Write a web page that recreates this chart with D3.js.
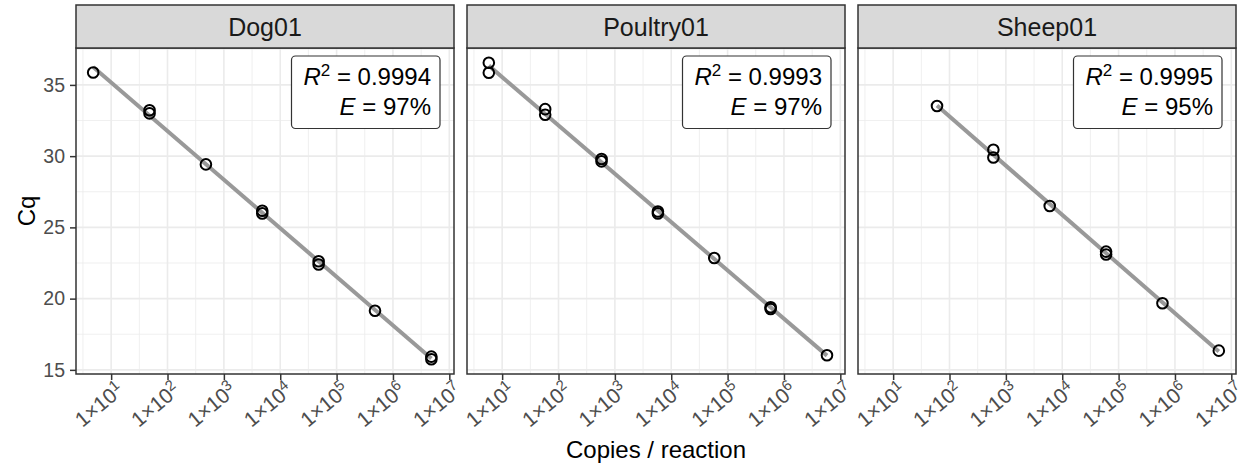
<!DOCTYPE html>
<meta charset="utf-8">
<style>
body { margin: 0; background: #fff; }
svg text { font-family: "Liberation Sans", Arial, sans-serif; }
.grid line { stroke: #ebebeb; }
.tick line { stroke: #333; stroke-width: 1.5px; }
.tick text { fill: #4d4d4d; font-size: 19.5px; }
</style>
<svg width="1242" height="465"></svg>
<script src="https://d3js.org/d3.v7.min.js"></script>
<script>

var panels = ["Dog01", "Poultry01", "Sheep01"];

var dogCopies = [4.8, 48, 48, 480, 4800, 4800, 48000, 48000, 480000, 4.8e6, 4.8e6];
var dogCq = [35.87, 33.22, 33.0, 29.42, 26.17, 25.98, 22.62, 22.4, 19.15, 15.93, 15.75];

var poultryCopies = [5.8, 5.8, 58, 58, 580, 580, 5800, 5800, 58000, 5.8e5, 5.8e5, 5.8e6];
var poultryCq = [36.55, 35.85, 33.3, 32.9, 29.8, 29.63, 26.12, 25.98, 22.85, 19.4, 19.27, 16.03];

var sheepCopies = [60, 600, 600, 6000, 60000, 60000, 6e5, 6e6];
var sheepCq = [33.52, 30.45, 29.9, 26.5, 23.3, 23.1, 19.68, 16.35];

var r2Labels = ["0.9994", "0.9993", "0.9995"];
var effLabels = ["97%", "97%", "95%"];

var xTicks = [1e1, 1e2, 1e3, 1e4, 1e5, 1e6, 1e7];
var yTicks = [15, 20, 25, 30, 35];

var copies = [dogCopies, poultryCopies, sheepCopies];
var cqs = [dogCq, poultryCq, sheepCq];

var svg = d3.select("svg"),
    left = 76, panelW = 378, gap = 13,
    stripTop = 5, stripH = 43,
    plotTop = stripTop + stripH, plotH = 326;

// shared scales, expanded 5% like ggplot
var allX = d3.merge(copies).map(function(d) { return Math.log10(d); }),
    allY = d3.merge(cqs);
var xe = d3.extent(allX), ye = d3.extent(allY);
var xpad = (xe[1] - xe[0]) * 0.05, ypad = (ye[1] - ye[0]) * 0.05;

var x = d3.scaleLog()
    .domain([Math.pow(10, xe[0] - xpad), Math.pow(10, xe[1] + xpad)])
    .range([0, panelW]);
var y = d3.scaleLinear()
    .domain([ye[0] - ypad, ye[1] + ypad])
    .range([plotH, 0]);

var xMinor = [], yMinor = [];
for (var k = 0; k <= 7; k++) {
  var v = Math.pow(10, k + 0.5);
  if (v > x.domain()[0] && v < x.domain()[1]) xMinor.push(v);
}
for (var m = 12.5; m <= 40; m += 5) {
  if (m > y.domain()[0] && m < y.domain()[1]) yMinor.push(m);
}

function fit(xs, ys) {
  var lx = xs.map(function(d) { return Math.log10(d); });
  var mx = d3.mean(lx), my = d3.mean(ys);
  var sxy = d3.sum(lx, function(d, i) { return (d - mx) * (ys[i] - my); });
  var sxx = d3.sum(lx, function(d) { return (d - mx) * (d - mx); });
  var b = sxy / sxx;
  return { slope: b, icpt: my - b * mx };
}

panels.forEach(function(name, i) {
  var g = svg.append("g")
      .attr("transform", "translate(" + (left + i * (panelW + gap)) + "," + plotTop + ")");

  g.append("rect")
      .attr("width", panelW)
      .attr("height", plotH)
      .attr("fill", "#fff");

  var grid = g.append("g").attr("class", "grid");
  grid.selectAll(".xminor").data(xMinor).enter().append("line")
      .attr("x1", x).attr("x2", x).attr("y1", 0).attr("y2", plotH)
      .attr("stroke-width", 0.8);
  grid.selectAll(".yminor").data(yMinor).enter().append("line")
      .attr("y1", y).attr("y2", y).attr("x1", 0).attr("x2", panelW)
      .attr("stroke-width", 0.8);
  grid.selectAll(".xmajor").data(xTicks).enter().append("line")
      .attr("x1", x).attr("x2", x).attr("y1", 0).attr("y2", plotH)
      .attr("stroke-width", 1.6);
  grid.selectAll(".ymajor").data(yTicks).enter().append("line")
      .attr("y1", y).attr("y2", y).attr("x1", 0).attr("x2", panelW)
      .attr("stroke-width", 1.6);

  var xs = copies[i], ys = cqs[i];
  var f = fit(xs, ys);
  var ext = d3.extent(xs);

  g.append("line")
      .attr("x1", x(ext[0]))
      .attr("y1", y(f.icpt + f.slope * Math.log10(ext[0])))
      .attr("x2", x(ext[1]))
      .attr("y2", y(f.icpt + f.slope * Math.log10(ext[1])))
      .attr("stroke", "#999")
      .attr("stroke-width", 4);

  g.selectAll("circle")
      .data(xs.map(function(d, j) { return [d, ys[j]]; }))
    .enter().append("circle")
      .attr("cx", function(d) { return x(d[0]); })
      .attr("cy", function(d) { return y(d[1]); })
      .attr("r", 5.3)
      .attr("fill", "none")
      .attr("stroke", "#000")
      .attr("stroke-width", 2);

  // annotation box
  var bw = 148.5, bx = panelW - 14 - bw, by = 8;
  g.append("rect")
      .attr("x", bx).attr("y", by)
      .attr("width", bw).attr("height", 72.5)
      .attr("rx", 4)
      .attr("fill", "#fff")
      .attr("stroke", "#333")
      .attr("stroke-width", 1.2);
  var t1 = g.append("text")
      .attr("x", panelW - 23).attr("y", 37)
      .attr("text-anchor", "end")
      .attr("font-size", 24)
      .attr("fill", "#000");
  t1.append("tspan").attr("font-style", "italic").text("R");
  t1.append("tspan").attr("font-size", 17).attr("dy", -9).text("2");
  t1.append("tspan").attr("dy", 9).text(" = " + r2Labels[i]);
  var t2 = g.append("text")
      .attr("x", panelW - 23).attr("y", 67)
      .attr("text-anchor", "end")
      .attr("font-size", 24)
      .attr("fill", "#000");
  t2.append("tspan").attr("font-style", "italic").text("E");
  t2.append("tspan").text(" = " + effLabels[i]);

  // panel border
  g.append("rect")
      .attr("width", panelW)
      .attr("height", plotH)
      .attr("fill", "none")
      .attr("stroke", "#333")
      .attr("stroke-width", 1.5);

  // strip
  g.append("rect")
      .attr("y", -stripH)
      .attr("width", panelW)
      .attr("height", stripH)
      .attr("fill", "#d9d9d9")
      .attr("stroke", "#333")
      .attr("stroke-width", 1.5);
  g.append("text")
      .attr("x", panelW / 2)
      .attr("y", -stripH / 2 + 9)
      .attr("text-anchor", "middle")
      .attr("font-size", 25)
      .attr("fill", "#1a1a1a")
      .text(name);

  // x axis
  var xa = g.append("g")
      .attr("transform", "translate(0," + plotH + ")")
      .call(d3.axisBottom(x).tickValues(xTicks).tickSize(6).tickFormat(""));
  xa.select(".domain").remove();
  xa.selectAll(".tick").append("text")
      .attr("transform", "translate(4,7) rotate(-40)")
      .attr("text-anchor", "end")
      .attr("dy", "0.7em")
      .style("font-size", "21px")
      .each(function(d) {
        var t = d3.select(this);
        t.append("tspan").text("1\u00d710");
        t.append("tspan").attr("font-size", 15).attr("dy", "-0.5em")
            .text(Math.round(Math.log10(d)));
      });

  if (i === 0) {
    var ya = g.append("g")
        .call(d3.axisLeft(y).tickValues(yTicks).tickSize(6).tickPadding(5));
    ya.select(".domain").remove();
  }
});

svg.append("text")
    .attr("transform", "translate(35," + (plotTop + plotH / 2) + ") rotate(-90)")
    .attr("text-anchor", "middle")
    .attr("font-size", 24)
    .attr("fill", "#000")
    .text("Cq");

svg.append("text")
    .attr("x", left + (3 * panelW + 2 * gap) / 2)
    .attr("y", 458)
    .attr("text-anchor", "middle")
    .attr("font-size", 24)
    .attr("fill", "#000")
    .text("Copies / reaction");

</script>
